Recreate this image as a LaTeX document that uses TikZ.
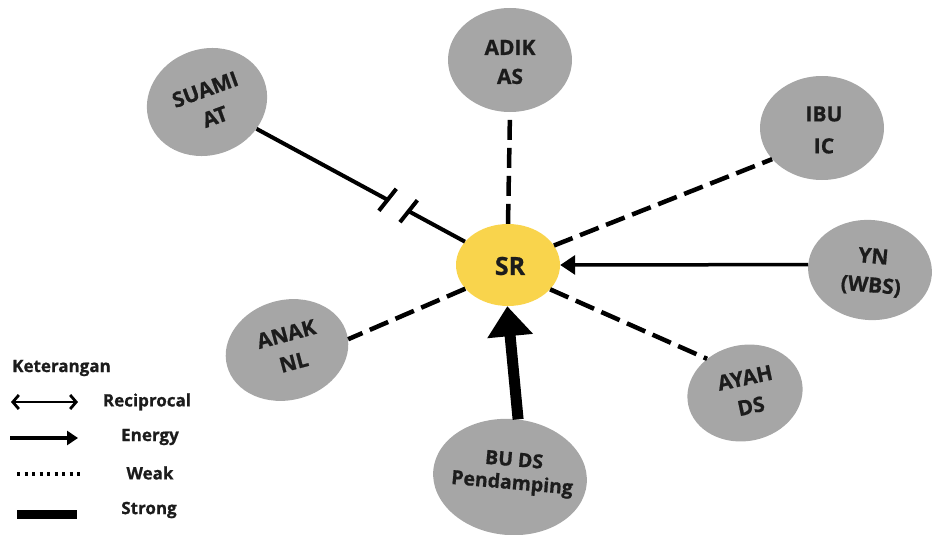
\documentclass[tikz,border=0pt]{standalone}
\usepackage{fontspec}
\setmainfont{Open Sans}[BoldFeatures={FakeBold=0.8}]
\usetikzlibrary{shapes.geometric,arrows.meta,calc}
\definecolor{bubgray}{HTML}{A6A6A6}
\definecolor{sryellow}{HTML}{F9D44C}
\definecolor{ink}{HTML}{1C1C1C}
\tikzset{
  bub/.style={ellipse,fill=bubgray,draw=none,inner sep=0pt},
  ctr/.style={ellipse,fill=sryellow,draw=none,inner sep=0pt},
  txt/.style={text=ink,font=\bfseries\fontsize{21}{29}\selectfont,align=center,inner sep=0pt},
  legtxt/.style={text=ink,font=\bfseries\fontsize{17}{20}\selectfont,inner sep=0pt},
  dashedge/.style={line width=4.5pt,dash pattern=on 20pt off 8pt},
  solidedge/.style={line width=4pt},
}
\begin{document}
\begin{tikzpicture}[x=1pt,y=-1pt]
\useasboundingbox (0,0) rectangle (932,535);
% bubbles
\node[ctr,minimum width=104pt,minimum height=82pt] (sr) at (508,265) {};
\node[txt,font=\bfseries\fontsize{25}{28}\selectfont] (srt) at (510,266) {SR};
\node[bub,minimum width=124pt,minimum height=104pt] (adik) at (510,60) {};
\node[txt] (adikt) at (510,62) {ADIK\\AS};
\node[bub,rotate=20,minimum width=122pt,minimum height=106pt] (suami) at (207,102) {};
\node[txt,rotate=20] (suamit) at (210,103) {SUAMI\\AT};
\node[bub,minimum width=124pt,minimum height=104pt] (ibu) at (822,128) {};
\node[txt,font=\bfseries\fontsize{21}{32}\selectfont] (ibut) at (824,130) {IBU\\IC};
\node[bub,rotate=-5,minimum width=124pt,minimum height=100pt] (yn) at (870,270) {};
\node[txt,rotate=-5] (ynt) at (872,272) {YN\\(WBS)};
\node[bub,rotate=12,minimum width=116pt,minimum height=96pt] (ayah) at (745,393) {};
\node[txt,rotate=12] (ayaht) at (748,392) {AYAH\\DS};
\node[bub,rotate=15,minimum width=124pt,minimum height=100pt] (anak) at (287,350) {};
\node[txt,rotate=15] (anakt) at (290,348) {ANAK\\NL};
\node[bub,rotate=-5,minimum width=154pt,minimum height=116pt] (bu) at (510,477) {};
\node[txt,rotate=-5,font=\bfseries\fontsize{19.5}{23}\selectfont] (but) at (513,473) {BU DS\\Pendamping};
% connectors
\draw[dashedge] (sr.90) -- (adik.-90);
\draw[dashedge] (sr.23) -- (ibu.212);
\draw[dashedge] (sr.-30) -- (ayah.126);
\draw[dashedge] (sr.209) -- (anak.-5);
\draw[line width=3.5pt,-{Triangle[length=15pt,width=19pt]}] (yn.west) -- (sr.east);
\draw[line width=11pt,-{Triangle[length=30pt,width=44pt]}] (bu.87) -- (sr.269);
% SUAMI broken connection
\coordinate (b1) at ($(suami)!0.60!(sr)$);
\coordinate (b2) at ($(suami)!0.67!(sr)$);
\draw[solidedge] (suami) -- (b1);
\draw[solidedge] (b2) -- (sr);
\draw[solidedge] ($(b1)!14pt!80:(sr)$) -- ($(b1)!14pt!-100:(sr)$);
\draw[solidedge] ($(b2)!14pt!80:(sr)$) -- ($(b2)!14pt!-100:(sr)$);
% legend
\node[legtxt,anchor=west] (ket) at (12,368) {Keterangan};
\coordinate (r1) at (11,402); \coordinate (r2) at (78,402);
\draw[line width=2.8pt,{Straight Barb[length=6pt,width=14pt]}-{Straight Barb[length=6pt,width=14pt]}] (r1) -- (r2);
\node[legtxt] (rect) at (147,402) {Reciprocal};
\coordinate (e1) at (10,438); \coordinate (e2) at (78,438);
\draw[line width=3.2pt,-{Triangle[length=11pt,width=14pt]}] (e1) -- (e2);
\node[legtxt] (enet) at (150,437) {Energy};
\coordinate (w1) at (17,474); \coordinate (w2) at (84,474);
\draw[line width=3.2pt,dash pattern=on 3pt off 4.5pt] (w1) -- (w2);
\node[legtxt] (weakt) at (150,473) {Weak};
\coordinate (s1) at (17,514); \coordinate (s2) at (77,514);
\draw[line width=9pt] (s1) -- (s2);
\node[legtxt] (strt) at (149,510) {Strong};
\end{tikzpicture}
\end{document}
